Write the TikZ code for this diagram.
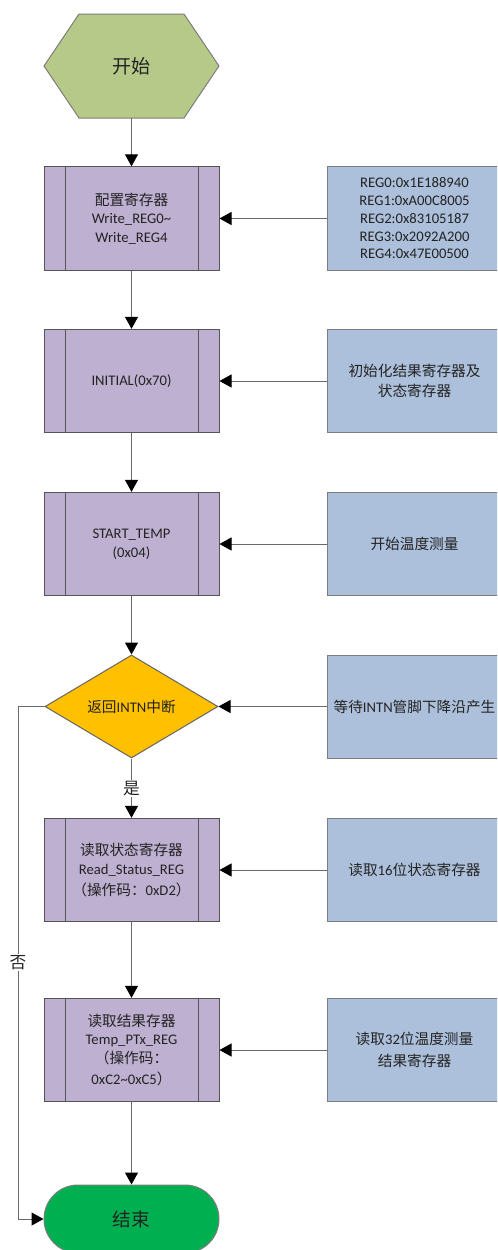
\documentclass[tikz,border=0pt]{standalone}
\usepackage{fontspec}
\setmainfont{Carlito}
\newfontfamily\cjk{Noto Sans CJK SC}
\usetikzlibrary{shapes.geometric,arrows.meta,calc}
\definecolor{hexfill}{RGB}{182,201,136}
\definecolor{pfill}{RGB}{190,176,209}
\definecolor{bfill}{RGB}{173,192,219}
\definecolor{dfill}{RGB}{255,192,0}
\definecolor{efill}{RGB}{0,176,80}
\definecolor{pborder}{RGB}{85,85,85}
\definecolor{bborder}{RGB}{125,125,125}
\definecolor{lcol}{RGB}{105,105,105}
\definecolor{txt}{RGB}{35,35,35}
\newcommand{\zh}[1]{{\cjk #1}}
\begin{document}
\begin{tikzpicture}[x=0.75pt,y=-0.75pt,
  every node/.style={text=txt},
  proc/.style={draw=pborder, line width=0.75pt, fill=pfill, minimum width=131.25pt, minimum height=77.5pt, inner sep=0pt, align=center, font=\fontsize{11}{14}\selectfont},
  note/.style={draw=bborder, line width=0.75pt, fill=bfill, minimum width=131.25pt, minimum height=77.5pt, inner sep=0pt, align=center, font=\fontsize{11}{13.3}\selectfont},
  conn/.style={draw=lcol, line width=0.75pt, -{Triangle[width=9.75pt,length=9pt,color=black]}},
  lbl/.style={fill=white, inner sep=1pt, font=\fontsize{12.5}{14}\selectfont\cjk}
]
\useasboundingbox (0,0) rectangle (497,1250);
\clip (0,0) rectangle (497,1250);

% start hexagon
\path[draw=bborder, line width=0.75pt, fill=hexfill] (44,66) -- (79,14) -- (184,14) -- (219,66) -- (184,118) -- (79,118) -- cycle;
\node (start) at (131.5,66) [minimum width=131.25pt, minimum height=78pt, font=\fontsize{14.3}{16}\selectfont\cjk] {开始};

% process boxes
\node[proc] (b1) at (131.5,218.5) {\zh{配置寄存器}\\Write\_REG0\textasciitilde\\Write\_REG4};
\node[proc] (b2) at (131.5,381) {INITIAL(0x70)};
\node[proc] (b3) at (131.5,544) {START\_TEMP\\(0x04)};
\node[draw=bborder!80!black, line width=0.75pt, fill=dfill, shape=diamond, minimum width=129.75pt, minimum height=77.25pt, inner sep=0pt, font=\fontsize{11}{14}\selectfont] (d) at (131.5,706.5) {\zh{返回}INTN\zh{中断}};
\node[proc] (b5) at (131.5,870) {\zh{读取状态寄存器}\\Read\_Status\_REG\\[2pt]\zh{（操作码：}0xD2\zh{）}};
\node[proc] (b6) at (131.5,1050) {\zh{读取结果存器}\\Temp\_PTx\_REG\\\zh{（操作码：}\\[2pt]0xC2\textasciitilde0xC5\zh{）}};
\node[draw=bborder, line width=0.75pt, fill=efill, rounded corners=25.5pt, minimum width=131.25pt, minimum height=51pt, inner sep=0pt, font=\fontsize{14}{16}\selectfont\cjk] (end) at (131.5,1219) {结束};

\foreach \n in {b1,b2,b3,b5,b6}{
  \draw[pborder, line width=0.75pt] ([xshift=16.5pt]\n.north west) -- ([xshift=16.5pt]\n.south west);
  \draw[pborder, line width=0.75pt] ([xshift=-16pt]\n.north east) -- ([xshift=-16pt]\n.south east);
}

% note boxes
\node[note] (n1) at (414.5,218.5) {REG0:0x1E188940\\REG1:0xA00C8005\\REG2:0x83105187\\REG3:0x2092A200\\REG4:0x47E00500};
\node[note, font=\fontsize{11}{15}\selectfont] (n2) at (414.5,381) {\zh{初始化结果寄存器及}\\\zh{状态寄存器}};
\node[note] (n3) at (414.5,544) {\zh{开始温度测量}};
\node[note, minimum height=77.25pt] (n4) at (414.5,706.5) {\zh{等待}INTN\zh{管脚下降沿产生}};
\node[note] (n5) at (414.5,870) {\zh{读取}16\zh{位状态寄存器}};
\node[note, font=\fontsize{11}{16}\selectfont] (n6) at (414.5,1050) {\zh{读取}32\zh{位温度测量}\\\zh{结果寄存器}};

% main flow
\draw[conn] (start.south) -- (b1.north);
\draw[conn] (b1.south) -- (b2.north);
\draw[conn] (b2.south) -- (b3.north);
\draw[conn] (b3.south) -- (d.north);
\draw[conn] (d.south) -- node[lbl] {是} (b5.north);
\draw[conn] (b5.south) -- (b6.north);
\draw[conn] (b6.south) -- (end.north);

% side notes
\foreach \i/\j in {n1/b1,n2/b2,n3/b3,n4/d,n5/b5,n6/b6}{
  \draw[conn] (\i.west) -- (\j.east);
}

% no branch
\coordinate (c1) at (18,706.5);
\coordinate (c2) at (18,1219);
\draw[conn] (d.west) -- (c1) -- node[lbl] {否} (c2) -- (end.west);
\end{tikzpicture}
\end{document}
